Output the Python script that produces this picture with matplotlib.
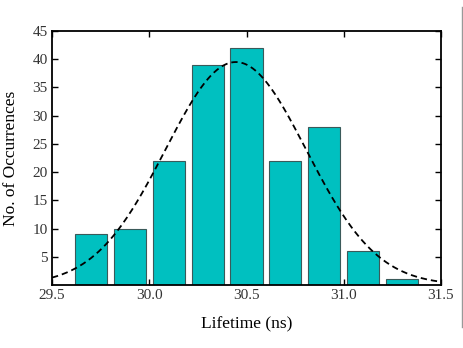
import matplotlib
matplotlib.use("Agg")
import matplotlib.pyplot as plt
import numpy as np
from matplotlib.lines import Line2D

bin_centers = [29.7, 29.9, 30.1, 30.3, 30.5, 30.7, 30.9, 31.1, 31.3]
counts = [9, 10, 22, 39, 42, 22, 28, 6, 1]
fit_mu = 30.445
fit_sigma = 0.362
fit_amp = 39.5
xticks = [29.5, 30.0, 30.5, 31.0, 31.5]
yticks = [5, 10, 15, 20, 25, 30, 35, 40, 45]

plt.rcParams['font.family'] = ['Liberation Serif', 'DejaVu Serif']

fig = plt.figure(figsize=(4.63, 3.48), dpi=100)
ax = fig.add_axes([52/463, 1-285/348, (441-52)/463, (285-31)/348])

ax.bar(bin_centers, counts, width=0.165, color='#00C0C0', edgecolor='#3a5a5a', linewidth=0.8, zorder=2)
xs = np.linspace(29.5, 31.5, 400)
ax.plot(xs, fit_amp*np.exp(-(xs-fit_mu)**2/(2*fit_sigma**2)), color='black', linestyle=(0, (3.5, 2.2)), linewidth=1.3, zorder=3)

ax.set_xlim(29.5, 31.5)
ax.set_ylim(0, 45)
ax.set_xticks(xticks)
ax.set_xticklabels([f"{v:.1f}" for v in xticks])
ax.set_yticks(yticks)
ax.tick_params(direction='in', top=True, right=True, labelsize=11, labelcolor='#333333', length=4, width=1, pad=3)
for s in ax.spines.values():
    s.set_linewidth(1.3)
ax.set_xlabel('Lifetime (ns)', fontsize=12.5, labelpad=10)
ax.set_ylabel('No. of Occurrences', fontsize=12.5, labelpad=10)

fig.add_artist(Line2D([462/463, 462/463], [1-7/348, 1-327/348], color='#999999', linewidth=1))

fig.savefig('out.png', dpi=100)
